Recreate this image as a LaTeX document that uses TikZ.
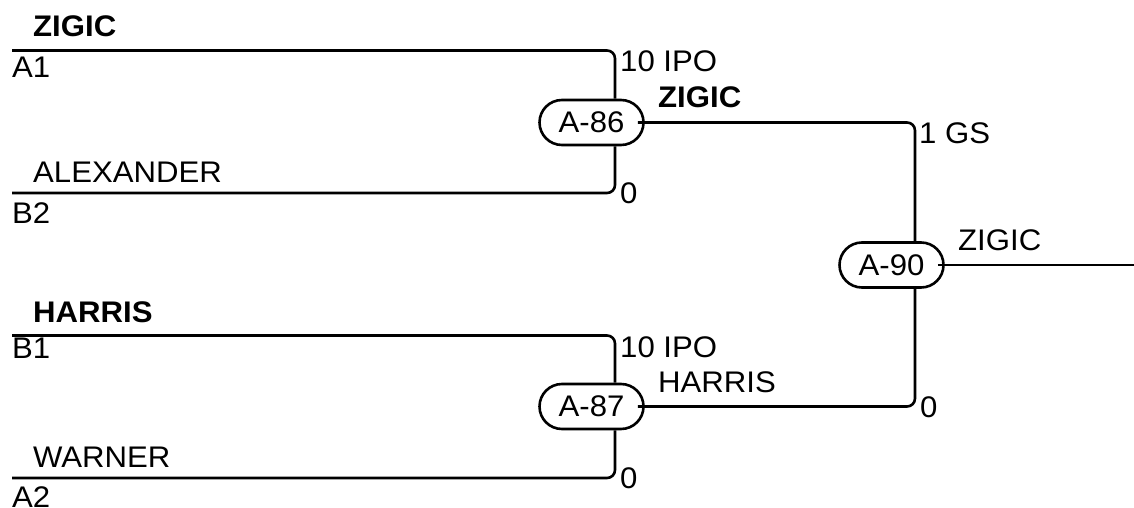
\documentclass[tikz,border=0pt]{standalone}
\usepackage{fontspec}
\setmainfont[FakeStretch=1.045]{Liberation Sans}
\usetikzlibrary{shapes.misc}
\begin{document}
\begin{tikzpicture}[x=1pt,y=-1pt,
  wire/.style={line width=2.6pt, rounded corners=8pt},
  game/.style={draw, line width=2.6pt, rounded rectangle, minimum width=104pt, minimum height=45pt, inner sep=0pt, font=\fontsize{29.8}{32}\selectfont},
  lbl/.style={anchor=base west, inner sep=0pt, font=\fontsize{29.8}{32}\selectfont},
  blbl/.style={lbl, font=\fontsize{29.8}{32}\selectfont\bfseries}]
\useasboundingbox (0,0) rectangle (1134,508);
% games
\node[game] (a86) at (591.5,122.5) {A-86};
\node[game] (a87) at (591.5,406.5) {A-87};
\node[game] (a90) at (891.5,265) {A-90};
% entry points
\coordinate (a1) at (12,50.5);
\coordinate (b2) at (12,193);
\coordinate (b1) at (12,335.5);
\coordinate (a2) at (12,478);
\coordinate (out) at (1134,265);
% wires
\draw[wire] (a1) -| ([xshift=23.5pt]a86.north);
\draw[wire] (b2) -| ([xshift=23.5pt]a86.south);
\draw[wire] (b1) -| ([xshift=23.5pt]a87.north);
\draw[wire] (a2) -| ([xshift=23.5pt]a87.south);
\draw[wire] ([xshift=-7pt]a86.east) -| ([xshift=23.5pt]a90.north);
\draw[wire] ([xshift=-7pt]a87.east) -| ([xshift=23.5pt]a90.south);
\draw[wire] ([xshift=-7pt]a90.east) -- (out);
% labels
\node[blbl] (t1) at (33,37) {ZIGIC};
\node[lbl] (t2) at (12,78) {A1};
\node[lbl] (t3) at (33,182) {ALEXANDER};
\node[lbl] (t4) at (12,223) {B2};
\node[lbl] (t5) at (620,72) {10 IPO};
\node[lbl] (t6) at (620,203) {0};
\node[blbl] (t7) at (658,108) {ZIGIC};
\node[lbl] (t8) at (919,143) {1 GS};
\node[lbl] (t9) at (958,250) {ZIGIC};
\node[lbl] (t10) at (920,417) {0};
\node[blbl] (t11) at (33,322) {HARRIS};
\node[lbl] (t12) at (12,358) {B1};
\node[lbl] (t13) at (620,357) {10 IPO};
\node[lbl] (t14) at (658,392) {HARRIS};
\node[lbl] (t15) at (33,467) {WARNER};
\node[lbl] (t16) at (12,507) {A2};
\node[lbl] (t17) at (620,488) {0};
\end{tikzpicture}
\end{document}
